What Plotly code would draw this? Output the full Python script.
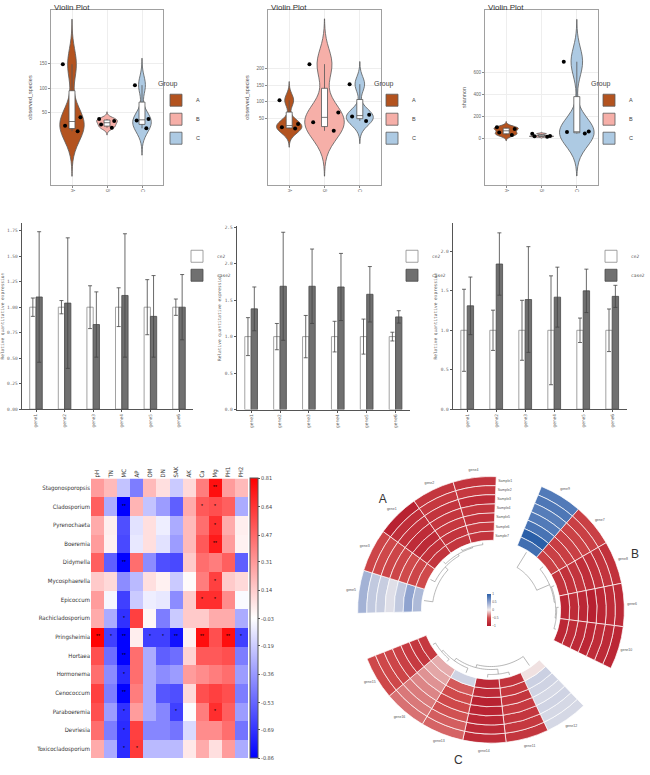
import numpy as np
import plotly.graph_objects as go

W, H = 650, 775

# ---------------- violin data ----------------
violin_groups = ["A", "B", "C"]
p1_A = [11, 22, 40, 149]
p1_B = [18, 25, 32, 36]
p1_C = [17, 33, 36, 106]
p2_A = [18, 22, 32, 104]
p2_B = [11, 37, 67, 214]
p2_C = [41, 55, 60, 153]
p3_A = [30, 52, 85, 100]
p3_B = [15, 18, 22, 42]
p3_C = [43, 58, 62, 700]
violin_ylabels = ["observed_species", "observed_species", "shannon"]
violin_yticks = [[50, 100, 150], [50, 100, 150, 200], [0, 200, 400, 600]]

# ---------------- bar data ----------------
genes = ["gene1", "gene2", "gene3", "gene4", "gene5", "gene6"]
bar_names = ["ce2", "case2"]
b1_ctrl = [1.00, 1.00, 1.00, 1.00, 1.00, 1.00]
b1_ctrl_sd = [0.09, 0.065, 0.21, 0.19, 0.27, 0.08]
b1_case = [1.10, 1.04, 0.83, 1.115, 0.91, 1.00]
b1_case_sd = [0.64, 0.64, 0.32, 0.605, 0.40, 0.32]
b2_ctrl = [1.00, 1.00, 1.00, 1.00, 1.00, 1.00]
b2_ctrl_sd = [0.26, 0.18, 0.29, 0.21, 0.24, 0.06]
b2_case = [1.38, 1.69, 1.69, 1.68, 1.58, 1.27]
b2_case_sd = [0.30, 0.74, 0.51, 0.46, 0.38, 0.085]
b3_ctrl = [1.00, 1.00, 1.00, 1.00, 1.00, 1.00]
b3_ctrl_sd = [0.52, 0.255, 0.38, 0.69, 0.155, 0.27]
b3_case = [1.31, 1.84, 1.39, 1.42, 1.50, 1.43]
b3_case_sd = [0.365, 0.395, 0.67, 0.38, 0.275, 0.14]
bar_yticks = [[0, 0.25, 0.5, 0.75, 1.0, 1.25, 1.5, 1.75],
              [0, 0.5, 1.0, 1.5, 2.0, 2.5],
              [0, 0.5, 1.0, 1.5, 2.0]]
bar_ytop = [1.824, 2.518, 2.358]
bar_tickfmt = [".2f", ".1f", ".1f"]

# ---------------- correlation heatmap data ----------------
env_vars = ["pH", "TN", "MC", "AP", "OM", "DN", "SAK", "AK", "Ca", "Mg", "PH1", "PH2"]
genera = ["Stagonosporopsis", "Cladosporium", "Pyrenochaeta", "Boeremia", "Didymella",
          "Mycosphaerella", "Epicoccum", "Rachicladosporium", "Pringsheimia", "Hortaea",
          "Hormonema", "Cenococcum", "Paraboeremia", "Devriesia", "Toxicocladosporium"]
corr = [
    [0.30, 0.20, -0.22, -0.45, 0.20, 0.08, -0.20, 0.10, 0.40, 0.76, 0.30, 0.20],
    [0.50, -0.30, -0.86, 0.22, -0.22, -0.35, -0.55, 0.25, 0.52, 0.55, 0.50, -0.30],
    [0.25, 0.03, -0.60, -0.12, 0.08, -0.08, -0.30, 0.20, 0.45, 0.66, 0.25, 0.03],
    [0.30, 0.02, -0.62, -0.10, 0.08, -0.12, -0.35, 0.20, 0.52, 0.72, 0.30, 0.02],
    [0.50, -0.55, -0.85, 0.45, -0.40, -0.60, -0.62, 0.15, 0.45, 0.40, 0.50, -0.55],
    [0.15, 0.10, -0.40, -0.25, 0.08, 0.02, -0.20, -0.01, 0.40, 0.60, 0.15, 0.10],
    [0.30, -0.05, -0.65, -0.20, -0.08, -0.10, -0.40, 0.15, 0.66, 0.66, 0.35, -0.04],
    [0.25, -0.30, -0.70, 0.60, 0.00, -0.45, -0.20, 0.15, 0.15, 0.25, 0.25, -0.30],
    [0.80, -0.65, -0.85, 0.03, -0.65, -0.65, -0.80, 0.02, 0.76, 0.55, 0.76, -0.65],
    [0.55, -0.50, -0.85, 0.45, -0.30, -0.55, -0.50, 0.12, 0.52, 0.52, 0.55, -0.45],
    [0.45, -0.40, -0.72, 0.45, -0.30, -0.40, -0.35, 0.30, 0.35, 0.40, 0.45, -0.35],
    [0.60, -0.45, -0.85, 0.40, -0.30, -0.58, -0.60, 0.10, 0.55, 0.60, 0.55, -0.45],
    [0.55, -0.35, -0.70, 0.30, -0.30, -0.42, -0.65, -0.03, 0.40, 0.66, 0.50, -0.35],
    [0.45, -0.45, -0.72, 0.60, -0.42, -0.42, -0.48, -0.15, 0.35, 0.35, 0.45, -0.48],
    [0.25, -0.30, -0.72, 0.62, -0.25, -0.25, -0.25, 0.05, 0.25, 0.08, 0.30, -0.30],
]
signif = [
    ["", "", "", "", "", "", "", "", "", "**", "", ""],
    ["", "", "**", "", "", "", "", "", "*", "*", "", ""],
    ["", "", "", "", "", "", "", "", "", "*", "", ""],
    ["", "", "", "", "", "", "", "", "", "**", "", ""],
    ["", "", "**", "", "", "", "", "", "", "", "", ""],
    ["", "", "", "", "", "", "", "", "", "*", "", ""],
    ["", "", "", "", "", "", "", "", "*", "*", "", ""],
    ["", "", "*", "", "", "", "", "", "", "", "", ""],
    ["**", "*", "**", "", "*", "*", "**", "", "**", "", "**", "*"],
    ["", "", "**", "", "", "", "", "", "", "", "", ""],
    ["", "", "*", "", "", "", "", "", "", "", "", ""],
    ["", "", "**", "", "", "", "", "", "", "", "", ""],
    ["", "", "*", "", "", "", "*", "", "", "*", "", ""],
    ["", "", "*", "", "", "", "", "", "", "", "", ""],
    ["", "", "*", "*", "", "", "", "", "", "", "", ""],
]
corr_ticks = [0.81, 0.64, 0.47, 0.31, 0.14, -0.03, -0.19, -0.36, -0.53, -0.69, -0.86]

# ---------------- circular heatmap data (columns, outer track -> inner track) ----------------
sample_labels = ["Sample1", "Sample2", "Sample3", "Sample4", "Sample5", "Sample6", "Sample7"]
circ_A = [
    [0.40, 0.25, 0.22, 0.10, 0.25, 0.50, 0.35],
    [-0.55, -0.52, -0.55, -0.55, -0.50, -0.55, -0.50],
    [-0.90, -0.78, -0.75, -0.80, -0.82, -0.75, -0.72],
    [-0.70, -0.68, -0.72, -0.70, -0.68, -0.72, -0.70],
    [-0.72, -0.68, -0.80, -0.70, -0.74, -0.68, -0.72],
]
circ_B = [
    [0.80, 0.82, 0.78, 0.80, 0.85, 1.00, 0.88],
    [-0.60, -0.60, -0.58, -0.60, -0.62, -0.60, -0.60],
    [-0.75, -0.72, -0.75, -0.78, -0.72, -0.75, -0.72],
    [-0.82, -0.80, -0.85, -0.92, -0.85, -0.80, -0.85],
    [-0.85, -0.82, -0.80, -0.85, -0.82, -0.80, -0.85],
]
circ_C = [
    [0.15, 0.15, 0.18, 0.15, 0.18, 0.20, -0.04],
    [-0.70, -0.68, -0.70, -0.66, -0.70, -0.68, -0.72],
    [-0.80, -0.82, -0.85, -0.88, -0.90, -0.82, -0.82],
    [-0.42, -0.44, -0.48, -0.52, -0.50, -0.45, 0.18],
    [-0.38, -0.36, -0.35, -0.32, -0.28, -0.22, -0.20],
    [-0.52, -0.52, -0.55, -0.60, -0.66, -0.70, -0.68],
]
circ_gene_A = ["gene5", "gene3", "gene1", "gene2", "gene4"]
circ_gene_B = ["gene9", "gene7", "gene8", "gene6", "gene10"]
circ_gene_C = ["gene12", "gene11", "gene14", "gene13", "gene16", "gene15"]
circ_legend_ticks = [1, 0.5, 0, -0.5, -1]
# dendrograms: [left, right, merge height]; ids >= n refer to earlier merges
dendro_A = [[3, 4, 2], [2, 5, 3], [1, 6, 5], [0, 7, 9]]
dendro_B = [[3, 4, 2], [2, 5, 3], [1, 6, 4], [0, 7, 18]]
dendro_C = [[1, 2, 3], [4, 5, 3], [3, 7, 5], [6, 8, 8], [0, 9, 11]]

# ---------------- styles ----------------
group_colors = ["#B3531F", "#F6AFA8", "#ADCAE3"]
v_bw = [[31, 5, 18.5], [19, 46, 23], [18, 4.5, 129]]
v_width = [[0.69, 0.59, 0.53], [0.72, 1.12, 0.76], [0.69, 0.69, 0.97]]
v_yrange = [[-100, 261], [-154, 379], [-427, 1173]]
v_xpx = [(51, 163), (268, 381), (485, 598)]
v_legx = [156, 372, 589]
b_xpx = [(21.7, 193.3), (236.7, 410.0), (452.7, 626.7)]
b_ypx = [(223.3, 410.3), (226.0, 410.7), (223.3, 410.3)]
mono = "DejaVu Sans Mono, Liberation Mono, monospace"
narrow = "Liberation Sans Narrow, DejaVu Sans Condensed, Liberation Sans, sans-serif"


def px_x(p):
    return p / W


def px_y(p):
    return 1 - p / H


fig = go.Figure()
layout = dict(width=W, height=H, margin=dict(l=0, r=0, t=0, b=0),
              paper_bgcolor="white", plot_bgcolor="white",
              font=dict(family="Liberation Sans, Arial, sans-serif", color="#333", size=6),
              violinmode="overlay", barmode="group", bargap=0.56, bargroupgap=0,
              annotations=[])

# ---------- violins ----------
vdata = [[p1_A, p1_B, p1_C], [p2_A, p2_B, p2_C], [p3_A, p3_B, p3_C]]
for i in range(3):
    sfx = "" if i == 0 else str(i + 1)
    for j, g in enumerate(violin_groups):
        vals = vdata[i][j]
        bw = v_bw[i][j]
        fig.add_trace(go.Violin(
            x=[g] * len(vals), y=vals, name=g, legend="legend" + sfx,
            xaxis="x" + sfx, yaxis="y" + sfx,
            fillcolor=group_colors[j], line=dict(color="#5a5a5a", width=0.8),
            bandwidth=bw, spanmode="manual", span=[min(vals) - 3 * bw, max(vals) + 3 * bw],
            width=v_width[i][j], quartilemethod="exclusive",
            box=dict(visible=True, width=0.17 / v_width[i][j], fillcolor="white",
                     line=dict(color="#555", width=0.8)),
            meanline=dict(visible=False),
            points="all", pointpos=0, jitter=0.9,
            marker=dict(size=4, color="black"),
            hoverinfo="skip", showlegend=True))
    x0, x1 = v_xpx[i]
    layout["xaxis" + sfx] = dict(
        domain=[px_x(x0), px_x(x1)], anchor="y" + sfx, type="category",
        categoryorder="array", categoryarray=violin_groups, range=[-0.6, 2.6],
        showline=True, mirror=True, linecolor="#a0a0a0", linewidth=1.2,
        showgrid=True, gridcolor="#eeeeee", gridwidth=0.6, zeroline=False,
        ticks="outside", ticklen=2, tickcolor="#888", tickangle=90,
        tickfont=dict(size=4.5, color="#666"))
    layout["yaxis" + sfx] = dict(
        domain=[px_y(185), px_y(9)], anchor="x" + sfx, range=v_yrange[i],
        tickvals=violin_yticks[i], showline=True, mirror=True, linecolor="#a0a0a0",
        linewidth=1.2, showgrid=True, gridcolor="#eeeeee", gridwidth=0.6, zeroline=False,
        ticks="outside", ticklen=2, tickcolor="#888",
        tickfont=dict(size=4.5, color="#666"),
        title=dict(text=violin_ylabels[i], font=dict(size=5.5, color="#555"), standoff=6))
    layout["legend" + sfx] = dict(
        x=px_x(v_legx[i]), y=px_y(76), xanchor="left", yanchor="top",
        bgcolor="rgba(0,0,0,0)", font=dict(size=5.5, color="#444"),
        title=dict(text="Group", font=dict(size=7, color="#444")),
        itemwidth=30, tracegroupgap=0)
    layout["annotations"].append(dict(
        text="Violin Plot", x=px_x(x0 + 1), y=px_y(0), xref="paper", yref="paper",
        xanchor="left", yanchor="top", showarrow=False,
        font=dict(size=8, color="#333")))

# ---------- bars ----------
bdata = [(b1_ctrl, b1_ctrl_sd, b1_case, b1_case_sd),
         (b2_ctrl, b2_ctrl_sd, b2_case, b2_case_sd),
         (b3_ctrl, b3_ctrl_sd, b3_case, b3_case_sd)]
for k in range(3):
    n = k + 4
    sfx = str(n)
    ctrl, ctrl_sd, case, case_sd = bdata[k]
    fig.add_trace(go.Bar(
        x=genes, y=ctrl, name=bar_names[0], legend="legend" + sfx,
        xaxis="x" + sfx, yaxis="y" + sfx,
        marker=dict(color="white", line=dict(color="#8a8a8a", width=0.8)),
        error_y=dict(type="data", array=ctrl_sd, visible=True, color="#444",
                     thickness=0.8, width=2),
        hoverinfo="skip"))
    fig.add_trace(go.Bar(
        x=genes, y=case, name=bar_names[1], legend="legend" + sfx,
        xaxis="x" + sfx, yaxis="y" + sfx,
        marker=dict(color="#707070", line=dict(color="#4a4a4a", width=0.8)),
        error_y=dict(type="data", array=case_sd, visible=True, color="#444",
                     thickness=0.8, width=2),
        hoverinfo="skip"))
    bx0, bx1 = b_xpx[k]
    by0, by1 = b_ypx[k]
    layout["xaxis" + sfx] = dict(
        domain=[px_x(bx0), px_x(bx1)], anchor="y" + sfx, type="category",
        showline=True, linecolor="#555", linewidth=1, showgrid=False, zeroline=False,
        ticks="outside", ticklen=2, tickcolor="#555", tickangle=-90,
        tickfont=dict(size=4.5, color="#666", family=mono))
    layout["yaxis" + sfx] = dict(
        domain=[px_y(by1), px_y(by0)], anchor="x" + sfx, range=[0, bar_ytop[k]],
        tickvals=bar_yticks[k], tickformat=bar_tickfmt[k],
        showline=True, linecolor="#555", linewidth=1, showgrid=False, zeroline=False,
        ticks="outside", ticklen=2, tickcolor="#555",
        tickfont=dict(size=4.5, color="#666", family=mono),
        title=dict(text="Relative quantitative expression",
                   font=dict(size=4.5, color="#666", family=mono), standoff=3))
    legpos = [dict(x=px_x(177), xanchor="left"), dict(x=px_x(392), xanchor="left"),
              dict(x=1.0, xanchor="right")][k]
    layout["legend" + sfx] = dict(
        y=px_y(242), yanchor="top", bgcolor="rgba(0,0,0,0)",
        font=dict(size=4.5, color="#555", family=mono), itemwidth=30, **legpos)

# ---------- correlation heatmap ----------
bwr = [[0.0, "rgb(0,0,255)"], [0.5, "rgb(255,255,255)"], [1.0, "rgb(255,0,0)"]]
fig.add_trace(go.Heatmap(
    z=corr, x=env_vars, y=genera, text=signif, texttemplate="%{text}",
    textfont=dict(size=5, color="black"), colorscale=bwr, zmin=-0.86, zmax=0.81,
    xaxis="x7", yaxis="y7", hoverinfo="skip",
    colorbar=dict(x=px_x(250), xanchor="left", y=px_y(761), yanchor="bottom",
                  len=281 / H, lenmode="fraction", thickness=8, ypad=0, xpad=0,
                  outlinewidth=1, outlinecolor="#555",
                  tickvals=corr_ticks, ticktext=[f"{v:.2f}" for v in corr_ticks],
                  ticks="outside", ticklen=2, tickcolor="#555",
                  tickfont=dict(size=5.5, color="#444", family=narrow))))
layout["xaxis7"] = dict(domain=[px_x(91), px_x(248)], anchor="y7", side="top",
                        tickangle=-90, showgrid=False, zeroline=False, ticks="",
                        tickfont=dict(size=6, color="#333", family=narrow))
layout["yaxis7"] = dict(domain=[px_y(761), px_y(480)], anchor="x7", autorange="reversed",
                        showgrid=False, zeroline=False, ticks="",
                        tickfont=dict(size=6, color="#333", family=narrow))

# ---------- circular heatmap ----------
cx, cy, R = 491, 612, 158
r_in, r_out = 70, 134
n_tracks = len(sample_labels)
track_h = (r_out - r_in) / n_tracks
sectors = [("A", circ_A, circ_gene_A, dendro_A),
           ("B", circ_B, circ_gene_B, dendro_B),
           ("C", circ_C, circ_gene_C, dendro_C)]
n_cols = sum(len(s[1]) for s in sectors)
gap = 20.0
col_w = (360 - gap * len(sectors)) / n_cols
ang = 268.5

thetas, bases, lens, vals = [], [], [], []
lab_t, lab_r, lab_txt = [], [], []
sec_t, sec_txt = [], []
den_t, den_r = [], []
sector_end = {}
for name, cols, gnames, merges in sectors:
    start = ang
    centers = []
    for ci, col in enumerate(cols):
        c = ang + col_w * (ci + 0.5)
        centers.append(c)
        for ti, v in enumerate(col):
            thetas.append(c)
            bases.append(r_out - (ti + 1) * track_h)
            lens.append(track_h)
            vals.append(v)
        lab_t.append(c)
        lab_r.append(r_out + 8)
        lab_txt.append(gnames[ci])
    ang += col_w * len(cols)
    sector_end[name] = ang
    sec_t.append((start + ang) / 2)
    sec_txt.append(name)
    # dendrogram
    r_leaf = r_in - 2
    nodes = [(a, r_leaf) for a in centers]
    for left, right, h in merges:
        (a1, r1), (a2, r2) = nodes[left], nodes[right]
        rn = r_leaf - h
        arc = list(np.linspace(a1, a2, 24))
        den_t += [a1] + arc + [a2, None]
        den_r += [r1] + [rn] * len(arc) + [r2, None]
        nodes.append(((a1 + a2) / 2, rn))
    ang += gap

circ_scale = [[0.0, "#b2182b"], [0.25, "#cf4a4b"], [0.5, "#f3eeee"],
              [0.75, "#8fa3cf"], [1.0, "#2a5fa8"]]
fig.add_trace(go.Barpolar(
    theta=thetas, r=lens, base=bases, width=[col_w] * len(thetas),
    marker=dict(color=vals, colorscale=circ_scale, cmin=-1, cmax=1,
                line=dict(color="white", width=0.7),
                showscale=True,
                colorbar=dict(x=px_x(487), xanchor="left", y=px_y(628), yanchor="bottom",
                              len=32 / H, lenmode="fraction", thickness=4,
                              ypad=0, xpad=0, outlinewidth=0,
                              tickvals=circ_legend_ticks, ticks="",
                              tickfont=dict(size=3.2, color="#555"))),
    subplot="polar", hoverinfo="skip", showlegend=False))
fig.add_trace(go.Scatterpolar(
    theta=den_t, r=den_r, mode="lines", line=dict(color="#9a9a9a", width=0.7),
    subplot="polar", hoverinfo="skip", showlegend=False, connectgaps=False))
fig.add_trace(go.Scatterpolar(
    theta=lab_t, r=lab_r, mode="text", text=lab_txt,
    textfont=dict(size=3.5, color="#555"), subplot="polar",
    hoverinfo="skip", showlegend=False, cliponaxis=False))
fig.add_trace(go.Scatterpolar(
    theta=[sector_end["A"] + 1.0] * n_tracks,
    r=[r_out - (ti + 0.5) * track_h for ti in range(n_tracks)],
    mode="text", text=sample_labels, textposition="middle right",
    textfont=dict(size=3.5, color="#555"), subplot="polar",
    hoverinfo="skip", showlegend=False, cliponaxis=False))
fig.add_trace(go.Scatterpolar(
    theta=sec_t, r=[r_out + 21] * len(sec_t), mode="text", text=sec_txt,
    textfont=dict(size=12, color="#333"), subplot="polar",
    hoverinfo="skip", showlegend=False, cliponaxis=False))

layout["polar"] = dict(
    domain=dict(x=[px_x(cx - R), px_x(cx + R)], y=[px_y(cy + R), px_y(cy - R)]),
    bgcolor="rgba(0,0,0,0)", barmode="overlay", hole=0,
    radialaxis=dict(range=[0, R], visible=False),
    angularaxis=dict(rotation=90, direction="clockwise", visible=False, type="linear"))

fig.update_layout(**layout)
fig.write_html("out.html", config={"displayModeBar": False},
               post_script="document.body.style.margin='0px';document.body.style.padding='0px';")
